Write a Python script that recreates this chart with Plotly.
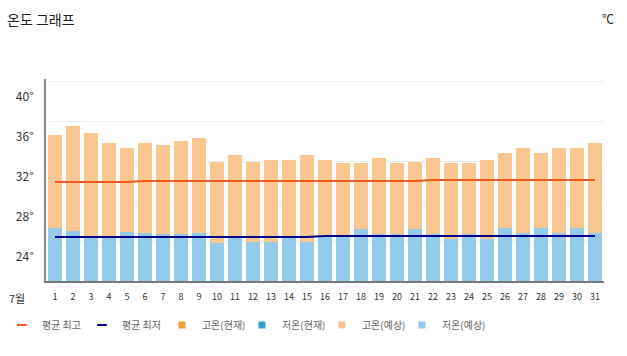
import plotly.graph_objects as go

# ---- data ----
days = list(range(1, 32))
day_labels = [str(d) for d in days]
high_forecast = [34.6, 35.5, 34.8, 33.8, 33.3, 33.8, 33.6, 34.0, 34.3, 31.9,
                 32.6, 31.9, 32.1, 32.1, 32.6, 32.1, 31.8, 31.8, 32.3, 31.8,
                 31.9, 32.3, 31.8, 31.8, 32.1, 32.8, 33.3, 32.8, 33.3, 33.3, 33.8]
low_forecast = [25.3, 25.0, 24.4, 24.4, 24.9, 24.8, 24.7, 24.7, 24.8, 23.8,
                24.3, 23.9, 23.9, 24.3, 23.9, 24.4, 24.4, 25.2, 24.7, 24.7,
                25.2, 24.7, 24.2, 24.7, 24.2, 25.3, 24.8, 25.3, 24.8, 25.3, 24.8]
avg_high = [29.9] * 5 + [30.0] * 16 + [30.1] * 10
avg_low = [24.4] * 15 + [24.5] * 16
high_current = []
low_current = []
y_ticks = [24, 28, 32, 36, 40]
y_tick_text = ["24°", "28°", "32°", "36°", "40°"]

FONT = "Noto Sans CJK KR"
C_AVG_HIGH = "#ef5a1e"
C_AVG_LOW = "#00008b"
C_HIGH_CUR = "#f7993a"
C_LOW_CUR = "#2fa0d6"
C_HIGH_FC = "#f9c78f"
C_LOW_FC = "#94cbea"

fig = go.Figure()

fig.add_trace(go.Bar(x=day_labels, y=high_forecast, marker_color=C_HIGH_FC,
                     marker_line_width=0, name="고온(예상)", legendgroup="hf",
                     showlegend=False))
fig.add_trace(go.Bar(x=day_labels, y=low_forecast, marker_color=C_LOW_FC,
                     marker_line_width=0, name="저온(예상)", legendgroup="lf",
                     showlegend=False))
fig.add_trace(go.Bar(x=high_current, y=high_current, marker_color=C_HIGH_CUR,
                     name="고온(현재)", legendgroup="hc", showlegend=False))
fig.add_trace(go.Bar(x=low_current, y=low_current, marker_color=C_LOW_CUR,
                     name="저온(현재)", legendgroup="lc", showlegend=False))
fig.add_trace(go.Scatter(x=day_labels, y=avg_high, mode="lines",
                         line=dict(color=C_AVG_HIGH, width=2),
                         name="평균 최고", legendgroup="ah", showlegend=False))
fig.add_trace(go.Scatter(x=day_labels, y=avg_low, mode="lines",
                         line=dict(color=C_AVG_LOW, width=2),
                         name="평균 최저", legendgroup="al", showlegend=False))

# legend entries (compact symbols)
legend_items = [
    ("평균 최고", "ah", "line-ew", C_AVG_HIGH),
    ("평균 최저", "al", "line-ew", C_AVG_LOW),
    ("고온(현재)", "hc", "square", C_HIGH_CUR),
    ("저온(현재)", "lc", "square", C_LOW_CUR),
    ("고온(예상)", "hf", "square", C_HIGH_FC),
    ("저온(예상)", "lf", "square", C_LOW_FC),
]
for name, grp, sym, col in legend_items:
    if sym == "line-ew":
        mk = dict(symbol=sym, size=7, color=col, line=dict(width=2, color=col))
    else:
        mk = dict(symbol=sym, size=7, color=col, line=dict(width=0))
    fig.add_trace(go.Scatter(x=[None], y=[None], mode="markers", marker=mk,
                             name=name, legendgroup=grp, showlegend=True,
                             hoverinfo="skip"))
# blank spacer entry so the last legend label is not clipped
fig.add_trace(go.Scatter(x=[None], y=[None], mode="markers",
                         marker=dict(color="rgba(0,0,0,0)", size=1,
                                     line=dict(width=0, color="rgba(0,0,0,0)")),
                         name=" ", showlegend=True, hoverinfo="skip"))

fig.update_layout(
    width=627, height=356,
    margin=dict(l=46, r=23, t=79, b=75, autoexpand=False),
    paper_bgcolor="white", plot_bgcolor="white",
    barmode="overlay", bargap=0.22,
    font=dict(family=FONT, color="#333"),
    title=dict(text="온도 그래프", x=7 / 627, xanchor="left",
               y=1 - 20 / 356, yanchor="middle", yref="container",
               font=dict(size=14, color="#222", family=FONT)),
    showlegend=True,
    legend=dict(orientation="h", x=-0.079, xanchor="left", y=-44 / 202,
                yanchor="middle", entrywidth=35, entrywidthmode="pixels",
                itemwidth=30, font=dict(size=10, color="#666", family=FONT),
                bgcolor="rgba(0,0,0,0)", traceorder="normal",
                itemclick=False, itemdoubleclick=False),
    annotations=[
        dict(text="7월", xref="paper", yref="paper", x=-29 / 558, y=-17 / 202,
             xanchor="center", yanchor="middle", showarrow=False,
             font=dict(size=11, color="#333", family=FONT)),
        dict(text="℃", xref="paper", yref="paper", x=(608 - 46) / 558,
             y=(281 - 19) / 202, xanchor="center", yanchor="middle",
             showarrow=False, font=dict(size=12, color="#222", family=FONT)),
    ],
)

fig.update_xaxes(type="category", showgrid=False, showline=True,
                 linecolor="#777", linewidth=2, ticks="",
                 tickfont=dict(size=9, color="#333", family=FONT),
                 ticklabelstandoff=6, fixedrange=True, automargin=False)
fig.update_yaxes(range=[20, 40.2], tickvals=y_ticks, ticktext=y_tick_text,
                 showgrid=True, gridcolor="#eeeeee", gridwidth=1,
                 showline=True, linecolor="#888", linewidth=2, ticks="",
                 zeroline=False, ticklabelshift=16, ticklabelstandoff=8,
                 tickfont=dict(size=12, color="#333", family=FONT),
                 fixedrange=True, automargin=False)

fig.write_html("out.html", config={"displayModeBar": False},
               post_script="document.body.style.margin='0';")
